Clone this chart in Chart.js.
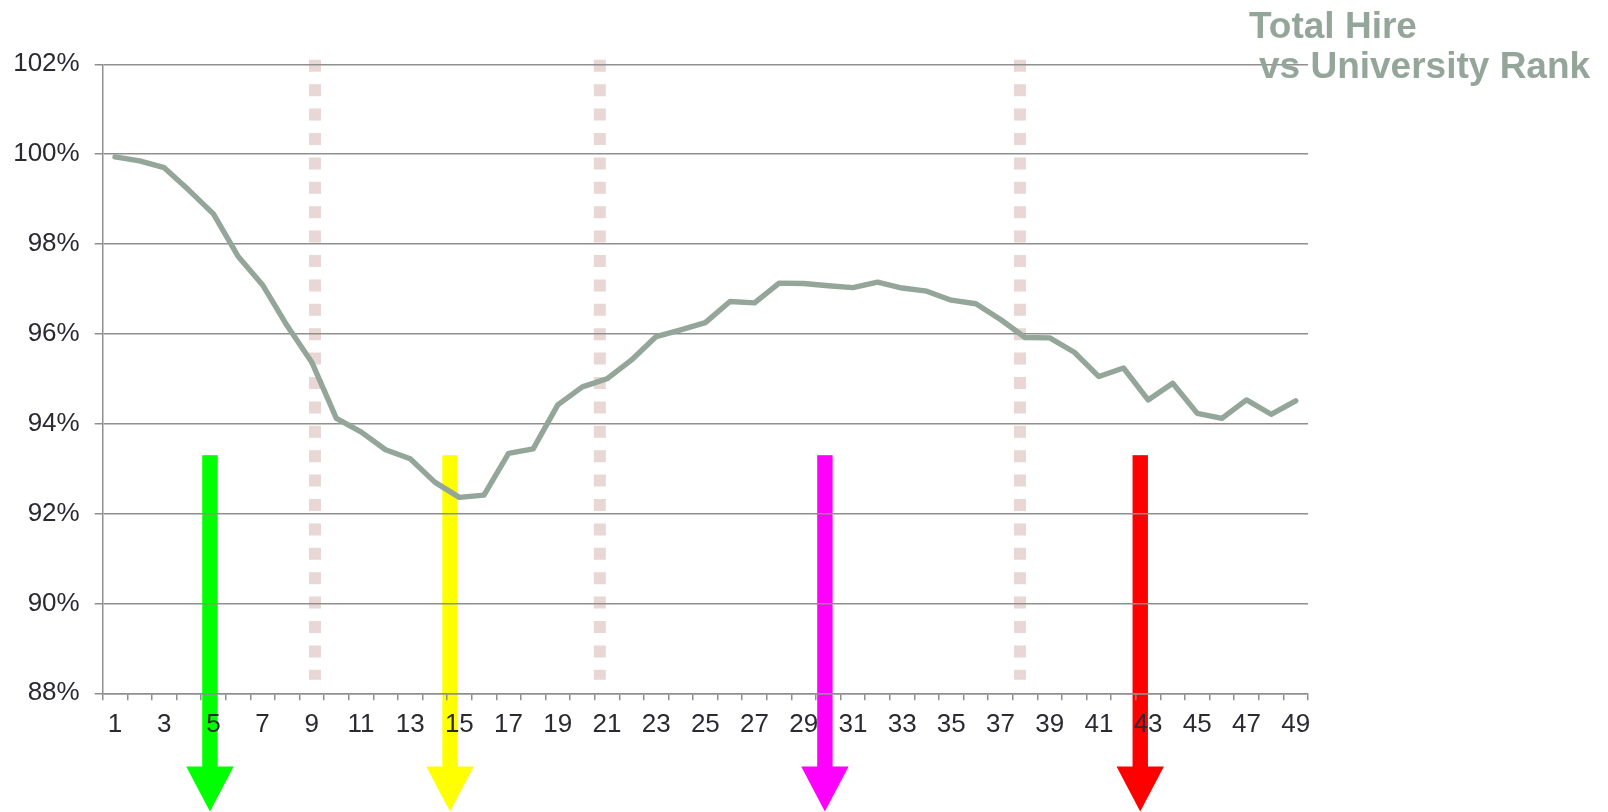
<!DOCTYPE html>
<html>
<head>
<meta charset="utf-8">
<title>Total Hire vs University Rank</title>
<script src="https://cdn.jsdelivr.net/npm/chart.js@4.4.1/dist/chart.umd.min.js"></script>
<style>
  html, body { margin: 0; padding: 0; background: #ffffff; }
  #wrap { width: 1608px; height: 812px; position: relative; }
</style>
</head>
<body>
<div id="wrap"><canvas id="myChart"></canvas></div>
<script>
const ctx = document.getElementById('myChart');

// university rank (x axis categories)
const ranks = ['1','2','3','4','5','6','7','8','9','10','11','12','13','14','15','16','17',
  '18','19','20','21','22','23','24','25','26','27','28','29','30','31','32','33','34',
  '35','36','37','38','39','40','41','42','43','44','45','46','47','48','49'];

// total hire, percent
const totalHire = [99.94, 99.85, 99.70, 99.20, 98.67, 97.73, 97.09, 96.18, 95.37, 94.12,
  93.82, 93.42, 93.22, 92.70, 92.36, 92.41, 93.34, 93.44, 94.42, 94.82,
  95.00, 95.42, 95.94, 96.09, 96.25, 96.72, 96.69, 97.13, 97.12, 97.07,
  97.03, 97.15, 97.02, 96.95, 96.75, 96.67, 96.32, 95.92, 95.91, 95.59,
  95.05, 95.24, 94.53, 94.90, 94.23, 94.12, 94.53, 94.21, 94.51];

// dotted dividers, in rank units, running between two percent values
const dividerRanks = [9.13, 20.71, 37.79];
const dividerTop = 102.1;
const dividerBottom = 88.3;

// the four down arrows
const arrowRanks = [4.86, 14.62, 29.86, 42.68];
const arrowColors = ['#00ff00', '#ffff00', '#ff00ff', '#ff0000'];
const arrowTop = 93.3;
const arrowHeadBase = 86.37;
const arrowTip = 85.37;

const titleLines = ['Total Hire', 'vs University Rank'];

const GREY = '#8f8f8f';
const LINE = '#94a699';
const FONT = '"Liberation Sans", Arial, sans-serif';

// dividers and arrows sit under the grid, title on top
const extras = {
    id: 'extras',
    beforeDraw(chart) {
        const c = chart.ctx;
        const xs = chart.scales.xr;
        const ys = chart.scales.y;
        c.save();
        c.strokeStyle = '#e8d7d4';
        c.lineWidth = 12;
        c.lineCap = 'butt';
        c.setLineDash([12, 12.4]);
        dividerRanks.forEach(r => {
            const x = xs.getPixelForValue(r);
            c.beginPath();
            c.moveTo(x, ys.getPixelForValue(dividerTop));
            c.lineTo(x, ys.getPixelForValue(dividerBottom));
            c.stroke();
        });
        c.setLineDash([]);
        arrowRanks.forEach((r, i) => {
            const x = xs.getPixelForValue(r);
            const top = ys.getPixelForValue(arrowTop);
            const base = ys.getPixelForValue(arrowHeadBase);
            const tip = ys.getPixelForValue(arrowTip);
            c.fillStyle = arrowColors[i];
            c.fillRect(x - 7.7, top, 15.4, base - top + 1);
            c.beginPath();
            c.moveTo(x - 23.7, base);
            c.lineTo(x + 23.7, base);
            c.lineTo(x, tip);
            c.closePath();
            c.fill();
        });
        c.restore();
    },
    afterDraw(chart) {
        const c = chart.ctx;
        c.save();
        c.fillStyle = LINE;
        c.font = 'bold 37px ' + FONT;
        c.textAlign = 'left';
        c.textBaseline = 'alphabetic';
        c.fillText(titleLines[0], 1249, 38);
        c.fillText(titleLines[1], 1259, 78);
        c.restore();
    }
};

const chart = new Chart(ctx, {
    type: 'line',
    data: {
        labels: ranks,
        datasets: [{
            label: 'Total Hire',
            data: totalHire,
            borderColor: LINE,
            borderWidth: 5.4,
            borderJoinStyle: 'round',
            borderCapStyle: 'round',
            pointRadius: 0,
            tension: 0,
            fill: false
        }]
    },
    options: {
        responsive: true,
        maintainAspectRatio: false,
        animation: false,
        layout: {
            padding: { top: 64.3, right: 300, bottom: 0, left: 0 }
        },
        plugins: {
            legend: { display: false },
            tooltip: { enabled: false },
            title: { display: false }
        },
        scales: {
            x: {
                type: 'category',
                offset: true,
                afterFit(scale) { scale.height = 118.7; },
                grid: {
                    offset: true,
                    drawOnChartArea: false,
                    drawTicks: true,
                    tickLength: 7,
                    color: GREY,
                    lineWidth: 1.5
                },
                border: { display: true, color: GREY, width: 1.5 },
                ticks: {
                    autoSkip: false,
                    maxRotation: 0,
                    padding: 9,
                    color: '#2a2a33',
                    font: { family: FONT, size: 26 },
                    callback: function(val, idx) {
                        return idx % 2 === 0 ? ranks[idx] : '';
                    }
                }
            },
            xr: {
                type: 'linear',
                display: false,
                position: 'bottom',
                min: 0.5,
                max: 49.5
            },
            y: {
                min: 88,
                max: 102,
                afterFit(scale) { scale.width = 102.7; },
                grid: {
                    color: GREY,
                    lineWidth: 1.5,
                    drawTicks: true,
                    tickLength: 8
                },
                border: { display: true, color: GREY, width: 1.5 },
                ticks: {
                    stepSize: 2,
                    padding: 15,
                    color: '#2a2a33',
                    font: { family: FONT, size: 26 },
                    callback: v => v + '%'
                }
            }
        }
    },
    plugins: [extras]
});
</script>
</body>
</html>
